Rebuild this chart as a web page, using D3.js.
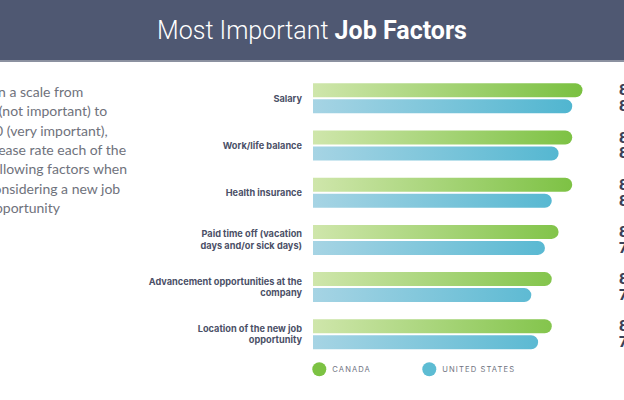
<!DOCTYPE html>
<html>
<head>
<meta charset="utf-8">
<script src="https://cdn.jsdelivr.net/npm/d3@7/dist/d3.min.js"></script>
<style>
  html, body { margin: 0; padding: 0; background: #fff; overflow: hidden; }
  svg { display: block; }
</style>
</head>
<body>
<svg id="chart" width="624" height="400"></svg>
<script>
// ---- data ----
const titleLight = "Most Important ";
const titleBold = "Job Factors";
const questionLines = [
  "On a scale from",
  "1 (not important) to",
  "10 (very important),",
  "please rate each of the",
  "following factors when",
  "considering a new job",
  "opportunity"
];
const categories = [
  ["Salary"],
  ["Work/life balance"],
  ["Health insurance"],
  ["Paid time off (vacation", "days and/or sick days)"],
  ["Advancement opportunities at the", "company"],
  ["Location of the new job", "opportunity"]
];
const seriesNames = ["CANADA", "UNITED STATES"];
const canadaValues = [8.9, 8.6, 8.6, 8.2, 8.0, 8.0];
const usValues = [8.6, 8.2, 8.0, 7.8, 7.4, 7.6];
const scaleDomain = [1, 10];

// ---- drawing ----
const svg = d3.select("#chart");
const W = 624, H = 400;
const colors = {
  header: "#4f5872",
  headerLine: "#8b91a0",
  canada: ["#cfe6ab", "#79c03f"],
  us: ["#a6d4e4", "#4cb4cf"]
};

// header
svg.append("rect").attr("x", 0).attr("y", 0).attr("width", W).attr("height", 62).attr("fill", colors.header);
svg.append("rect").attr("x", 0).attr("y", 60).attr("width", W).attr("height", 2).attr("fill", colors.headerLine);
const title = svg.append("text")
  .attr("x", W / 2).attr("y", 39)
  .attr("text-anchor", "middle")
  .attr("fill", "#ffffff")
  .style("font-family", "Roboto, sans-serif")
  .style("font-size", "25px");
title.append("tspan").style("font-weight", 300).text(titleLight);
title.append("tspan").style("font-weight", 700).text(titleBold);

// question paragraph
svg.append("g").selectAll("text")
  .data(questionLines)
  .join("text")
  .attr("x", -13)
  .attr("y", (d, i) => 97 + i * 19.3)
  .attr("fill", "#6f727c")
  .style("font-family", "Lato, sans-serif")
  .style("font-size", "14px")
  .text(d => d);

// scales
const x = d3.scaleLinear().domain(scaleDomain).range([313, 620]);
const y0 = d3.scaleBand().domain(d3.range(categories.length)).range([83.3, 349.3]).paddingInner(0.364).paddingOuter(0);
const y1 = d3.scaleBand().domain([0, 1]).range([0, y0.bandwidth()]).paddingInner(0.125);

// gradients
const defs = svg.append("defs");
[["gradCA", colors.canada], ["gradUS", colors.us]].forEach(([id, c]) => {
  const g = defs.append("linearGradient").attr("id", id)
    .attr("gradientUnits", "userSpaceOnUse")
    .attr("x1", x(scaleDomain[0])).attr("x2", x(9.0)).attr("y1", 0).attr("y2", 0);
  g.append("stop").attr("offset", "0%").attr("stop-color", c[0]);
  g.append("stop").attr("offset", "100%").attr("stop-color", c[1]);
});

function barPath(x0, x1, yTop, h) {
  const r = h / 2;
  return `M${x0},${yTop}H${x1 - r}A${r},${r} 0 0 1 ${x1 - r},${yTop + h}H${x0}Z`;
}

const rows = categories.map((c, i) => ({ i, label: c, vals: [canadaValues[i], usValues[i]] }));

const groups = svg.append("g").selectAll("g")
  .data(rows).join("g")
  .attr("transform", d => `translate(0,${y0(d.i)})`);

groups.selectAll("path")
  .data(d => d.vals.map((v, s) => ({ v, s })))
  .join("path")
  .attr("d", d => barPath(x(scaleDomain[0]), x(d.v), y1(d.s), y1.bandwidth()))
  .attr("fill", d => d.s === 0 ? "url(#gradCA)" : "url(#gradUS)");

// value labels
groups.selectAll("text.val")
  .data(d => d.vals.map((v, s) => ({ v, s })))
  .join("text")
  .attr("class", "val")
  .attr("x", x.range()[1] - 1)
  .attr("y", d => y1(d.s) + y1.bandwidth() / 2 + 5)
  .attr("fill", "#3b4259")
  .style("font-family", "Inter, sans-serif")
  .style("font-weight", 800)
  .style("font-size", "14px")
  .text(d => d.v.toFixed(1));

// category labels
groups.each(function (d) {
  const g = d3.select(this);
  const n = d.label.length;
  const cy = y0.bandwidth() / 2;
  g.selectAll("text.cat")
    .data(d.label).join("text")
    .attr("class", "cat")
    .attr("x", 302)
    .attr("y", (t, k) => cy + 3.3 + (k - (n - 1) / 2) * 11.7)
    .attr("text-anchor", "end")
    .attr("fill", "#4b5067")
    .style("font-family", "Inter, sans-serif")
    .style("font-weight", 700)
    .style("font-size", "9.2px")
    .text(t => t);
});

// legend
const legendColors = ["#7cc243", "#5dbcd3"];
const lx = [319.3, 429.3];
const legend = svg.append("g").selectAll("g")
  .data(seriesNames).join("g")
  .attr("transform", (d, i) => `translate(${lx[i]},369.3)`);
legend.append("circle").attr("r", 7).attr("fill", (d, i) => legendColors[i]);
legend.append("text")
  .attr("x", 13).attr("y", 3)
  .attr("fill", "#70737f")
  .style("font-family", "Inter, sans-serif")
  .style("font-size", "7.6px")
  .style("letter-spacing", "1.1px")
  .text(d => d);
</script>
</body>
</html>
